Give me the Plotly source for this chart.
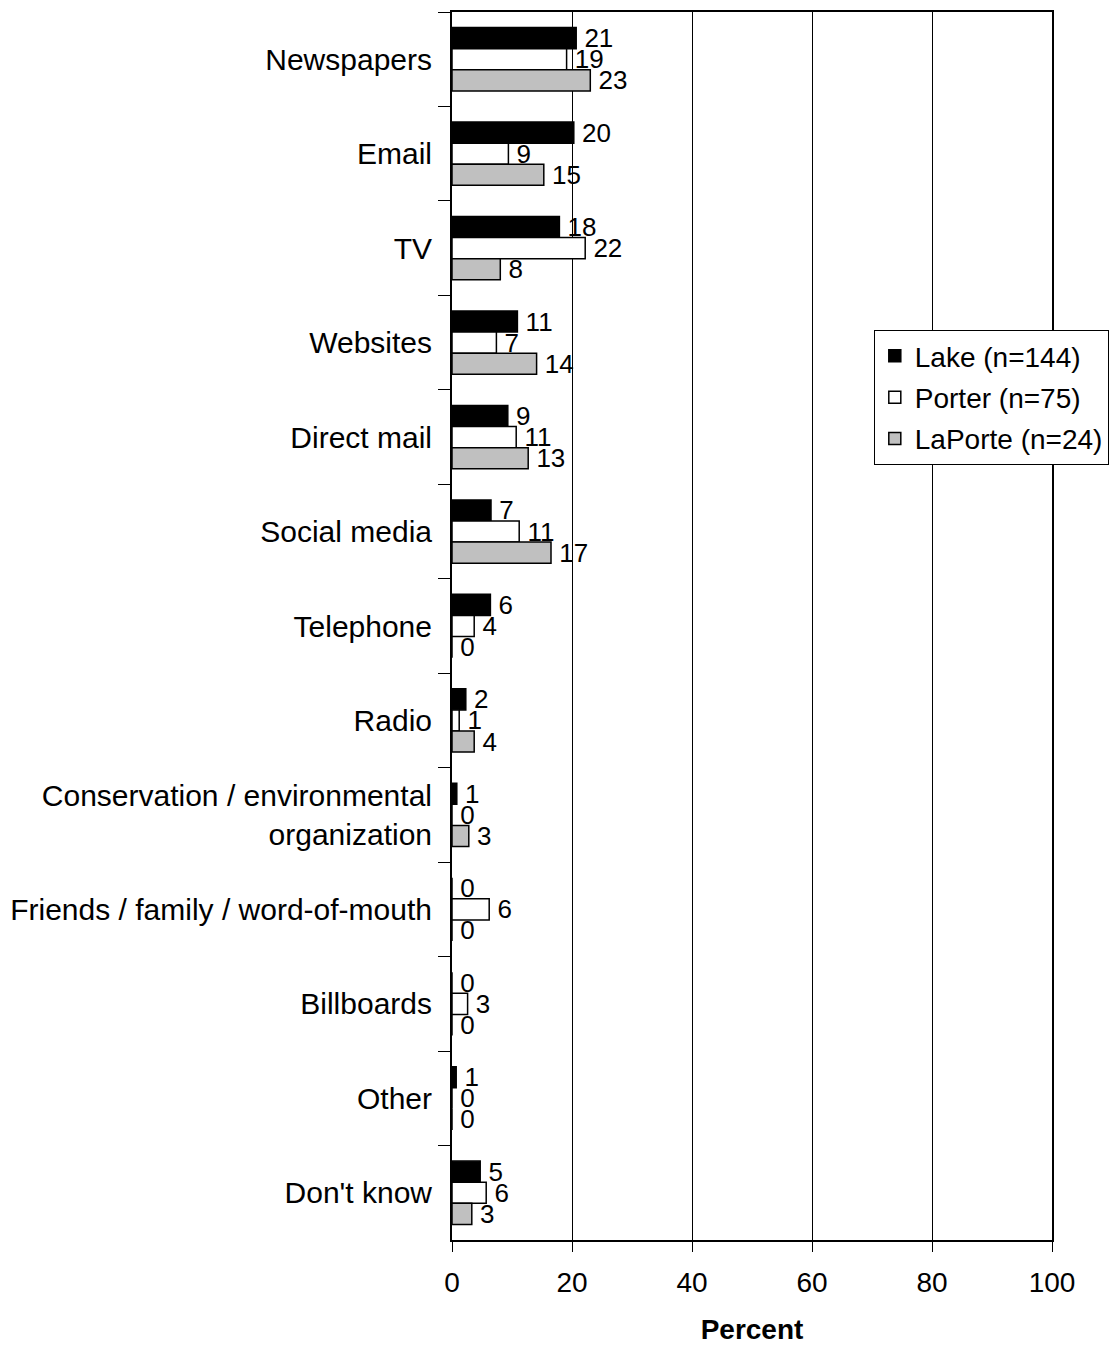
import plotly.graph_objects as go

categories = ["Newspapers", "Email", "TV", "Websites", "Direct mail", "Social media",
              "Telephone", "Radio", "Conservation / environmental<br>organization",
              "Friends / family / word-of-mouth", "Billboards", "Other", "Don't know"]

lake = [20.7, 20.3, 17.9, 10.9, 9.3, 6.5, 6.4, 2.3, 0.8, 0.0, 0.0, 0.7, 4.7]
porter = [19.1, 9.4, 22.2, 7.4, 10.7, 11.2, 3.7, 1.2, 0.0, 6.2, 2.6, 0.0, 5.7]
laporte = [23.05, 15.3, 8.05, 14.1, 12.7, 16.5, 0.0, 3.7, 2.8, 0.0, 0.0, 0.0, 3.3]

lake_labels = [21, 20, 18, 11, 9, 7, 6, 2, 1, 0, 0, 1, 5]
porter_labels = [19, 9, 22, 7, 11, 11, 4, 1, 0, 6, 3, 0, 6]
laporte_labels = [23, 15, 8, 14, 13, 17, 0, 4, 3, 0, 0, 0, 3]

series = [
    ("Lake (n=144)", lake, lake_labels, "#000000"),
    ("Porter (n=75)", porter, porter_labels, "#ffffff"),
    ("LaPorte (n=24)", laporte, laporte_labels, "#c0c0c0"),
]

FONT = "Liberation Sans, Arial, sans-serif"

fig = go.Figure()
for i, (name, vals, labels, color) in enumerate(series):
    fig.add_trace(go.Bar(
        y=categories, x=vals, name=name, orientation="h",
        legendgroup=f"g{i}",
        marker=dict(color=color, line=dict(color="black", width=1.5)),
        text=["\u2009" + str(v) for v in labels], textposition="outside",
        textfont=dict(family=FONT, size=26, color="black"),
        constraintext="none", cliponaxis=False,
    ))

fig.update_layout(
    width=1111, height=1337,
    margin=dict(l=444, r=67, t=2, b=105),
    barmode="group", bargap=0.33, bargroupgap=0,
    plot_bgcolor="white", paper_bgcolor="white",
    font=dict(family=FONT, size=26, color="black"),
    legend=dict(x=0.703, y=0.741, xanchor="left", yanchor="top",
                bordercolor="black", borderwidth=1, bgcolor="white",
                font=dict(family=FONT, size=28), tracegroupgap=2,
                traceorder="grouped", itemwidth=30),
    xaxis=dict(range=[0, 100], tickvals=[0, 20, 40, 60, 80, 100],
               showgrid=True, gridcolor="black", gridwidth=1,
               showline=True, linecolor="black", linewidth=2, mirror=True,
               ticks="outside", ticklen=10, tickcolor="black",
               tickfont=dict(size=28), zeroline=False, ticklabelstandoff=6,
               title=dict(text="<b>Percent</b>", font=dict(size=28), standoff=24)),
    yaxis=dict(autorange="reversed", showline=True, linecolor="black", linewidth=2,
               mirror=True, ticks="outside", ticklen=12, tickcolor="black",
               tickson="boundaries", showgrid=False,
               tickfont=dict(size=30), ticklabelstandoff=12),
)

fig.write_html("out.html")
